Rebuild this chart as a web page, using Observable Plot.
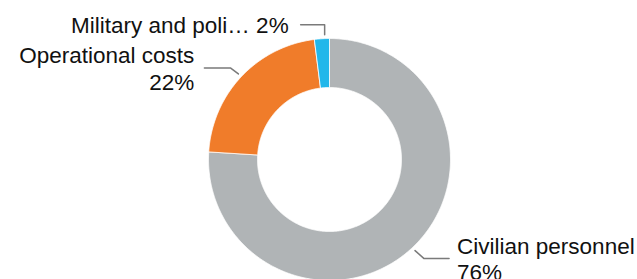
<!DOCTYPE html>
<html>
<head>
<meta charset="utf-8">
<script src="https://cdn.jsdelivr.net/npm/d3@7"></script>
<script src="https://cdn.jsdelivr.net/npm/@observablehq/plot@0.6"></script>
<style>
  html, body { margin: 0; padding: 0; background: #fff; }
  #chart svg { display: block; }
</style>
</head>
<body>
<div id="chart"></div>
<script>
// ---- data ----
const categories = ["Civilian personnel", "Operational costs", "Military and police personnel"];
const labels = ["Civilian personnel", "Operational costs", "Military and poli…"];
const shares = [76, 22, 2];
const colors = ["#b0b4b6", "#f07c2a", "#21b7ea"];

// ---- geometry (layout only) ----
const W = 637, H = 279;
const CX = 329, CY = 159;           // centre in pixels
const R_OUT = 121, R_IN = 72;

const pie = d3.pie().sort(null).value(d => d.v)(
  categories.map((c, i) => ({c, v: shares[i], label: labels[i]}))
);

const pt = (r, a) => [r * Math.sin(a), r * Math.cos(a)];

// slice polygons
const slicePts = [];
pie.forEach(s => {
  const n = Math.max(2, Math.ceil((s.endAngle - s.startAngle) * 180 / Math.PI * 2) + 1);
  const outer = [], inner = [];
  for (let k = 0; k < n; k++) {
    const a = s.startAngle + (s.endAngle - s.startAngle) * k / (n - 1);
    outer.push(pt(R_OUT, a));
    inner.push(pt(R_IN, a));
  }
  inner.reverse();
  [...outer, ...inner, outer[0]].forEach(([x, y]) => slicePts.push({cat: s.data.c, x, y}));
});

// leader lines + labels (offsets in pixels: +dx right, +dy down)
const layout = {
  "Civilian personnel": {elbow: [9, 8], dir: 1, len: 25, gap: 8},
  "Operational costs": {elbow: [-8, -6], dir: -1, len: 26, gap: 10},
  "Military and police personnel": {elbow: null, up: 10, dir: -1, len: 24, gap: 12}
};
const leaderPts = [];
const textRows = [];
pie.forEach(s => {
  const L = layout[s.data.c];
  const mid = (s.startAngle + s.endAngle) / 2;
  let [x0, y0] = pt(R_OUT + 4, mid);
  let e;
  if (L.elbow) e = [x0 + L.elbow[0], y0 - L.elbow[1]];
  else { x0 = x0 + 3; e = [x0, y0 + L.up]; }
  const end = [e[0] + L.dir * L.len, e[1]];
  [[x0, y0], e, end].forEach(([x, y]) => leaderPts.push({cat: s.data.c, x, y}));
  const pct = s.data.v + "%";
  const text = s.data.c === "Military and police personnel"
    ? s.data.label + " " + pct
    : s.data.label + "\n" + pct;
  textRows.push({x: end[0] + L.dir * L.gap, y: end[1], text, anchor: L.dir > 0 ? "start" : "end"});
});

const chart = Plot.plot({
  width: W,
  height: H,
  margin: 0,
  style: {fontFamily: "'Liberation Sans', Arial, sans-serif", background: "#fff"},
  x: {domain: [-CX, W - CX], range: [0, W], axis: null},
  y: {domain: [CY - H, CY], range: [H, 0], axis: null},
  color: {domain: categories, range: colors},
  marks: [
    Plot.line(slicePts, {x: "x", y: "y", z: "cat", fill: "cat", stroke: "#ffffff", strokeWidth: 0.8, curve: "linear"}),
    Plot.line(leaderPts, {x: "x", y: "y", z: "cat", stroke: "#7a7a7a", strokeWidth: 1.5, curve: "linear"}),
    Plot.text(textRows.filter(d => d.anchor === "start"), {x: "x", y: "y", text: "text", textAnchor: "start", lineAnchor: "middle", lineHeight: 1.18, fontSize: 22.5, fill: "#111111"}),
    Plot.text(textRows.filter(d => d.anchor === "end"), {x: "x", y: "y", text: "text", textAnchor: "end", lineAnchor: "middle", lineHeight: 1.18, fontSize: 22.5, fill: "#111111"})
  ]
});
document.getElementById("chart").appendChild(chart);
</script>
</body>
</html>
